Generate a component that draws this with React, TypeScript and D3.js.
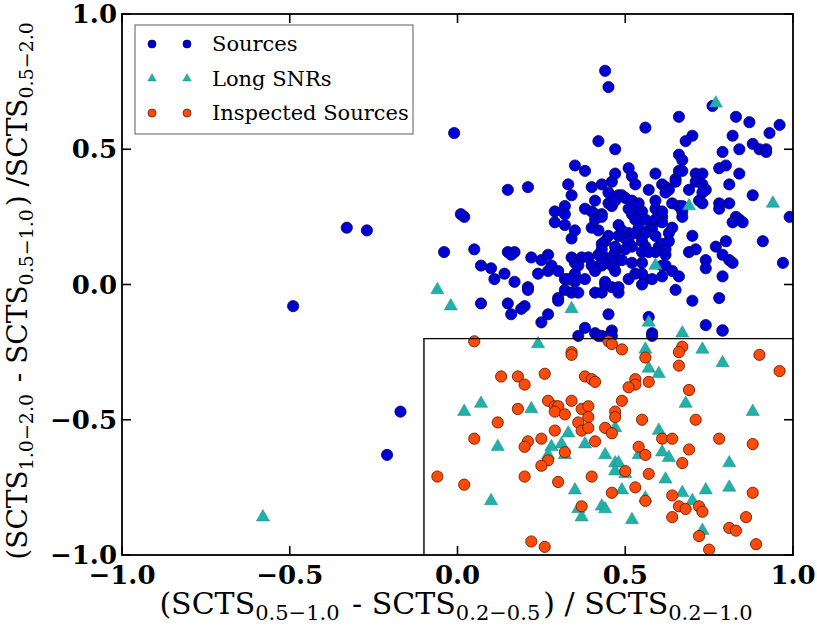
import { useEffect, useRef } from 'react';
import * as d3 from 'd3';

// hardness ratio pairs [x, y]
const sources: [number, number][] = [
  [0.44, 0.79], [0.45, 0.73], [-0.01, 0.56], [0.42, 0.53], [0.47, 0.5], [0.35, 0.44], [0.38, 0.42],
  [0.47, 0.41], [0.15, 0.35], [0.21, 0.36], [0.33, 0.37], [0.4, 0.36], [0.43, 0.37], [0.46, 0.38],
  [0.34, 0.33], [0.45, 0.34], [0.48, 0.33], [0.32, 0.29], [0.41, 0.31], [0.38, 0.28], [0.45, 0.3],
  [0.46, 0.29], [0.29, 0.27], [0.32, 0.26], [0.4, 0.27], [0.41, 0.26], [0.43, 0.26], [0.02, 0.25],
  [0.01, 0.26], [0.76, 0.66], [0.66, 0.62], [0.56, 0.58], [0.83, 0.62], [0.87, 0.6], [0.96, 0.59],
  [0.93, 0.56], [0.82, 0.55], [0.7, 0.55], [0.68, 0.53], [0.88, 0.52], [0.9, 0.5], [0.92, 0.5],
  [0.92, 0.49], [0.84, 0.5], [0.79, 0.49], [0.66, 0.48], [0.67, 0.46], [0.78, 0.43], [0.8, 0.44],
  [0.66, 0.42], [0.67, 0.42], [0.51, 0.43], [0.52, 0.4], [0.53, 0.37], [0.59, 0.41], [0.71, 0.41],
  [0.73, 0.41], [0.84, 0.41], [0.65, 0.39], [0.65, 0.38], [0.61, 0.37], [0.62, 0.36], [0.63, 0.35],
  [0.71, 0.38], [0.73, 0.37], [0.74, 0.35], [0.73, 0.34], [0.69, 0.35], [0.57, 0.35], [0.81, 0.37],
  [0.62, 0.34], [0.49, 0.33], [0.5, 0.32], [0.52, 0.31], [0.54, 0.3], [0.59, 0.31], [0.64, 0.3],
  [0.66, 0.29], [0.72, 0.31], [0.73, 0.3], [0.78, 0.3], [0.78, 0.28], [0.81, 0.3], [0.88, 0.33],
  [0.99, 0.25], [0.51, 0.28], [0.52, 0.26], [0.55, 0.27], [0.59, 0.28], [0.6, 0.26], [0.61, 0.25],
  [0.67, 0.27], [0.67, 0.25], [0.83, 0.25], [0.47, 0.31], [-0.04, 0.12], [0.05, 0.13], [0.15, 0.12],
  [0.17, 0.12], [0.16, 0.11], [0.22, 0.1], [0.25, 0.09], [0.27, 0.11], [0.07, 0.07], [0.1, 0.06],
  [0.11, 0.02], [0.14, 0.04], [0.17, 0.01], [0.24, 0.04], [0.27, 0.05], [0.28, 0.07], [0.3, 0.05],
  [0.32, 0.02], [0.21, -0.01], [0.21, -0.02], [0.07, -0.07], [0.15, -0.07], [0.16, -0.11],
  [0.2, -0.08], [0.19, -0.09], [0.25, -0.14], [0.27, -0.11], [0.3, -0.05], [0.3, -0.06], [0.32, -0.02],
  [0.34, -0.03], [0.36, -0.03], [0.35, 0.04], [0.35, 0.01], [0.33, 0.02], [0.38, 0.02], [0.34, 0.1],
  [0.35, 0.08], [0.37, 0.1], [0.39, 0.1], [0.34, 0.17], [0.35, 0.2], [0.29, 0.23], [0.32, 0.22],
  [0.4, 0.21], [0.42, 0.2], [0.41, 0.24], [0.43, 0.25], [0.4, 0.07], [0.41, 0.05], [0.43, 0.07],
  [0.45, 0.08], [0.46, 0.07], [0.47, 0.05], [0.41, -0.03], [0.43, -0.03], [0.44, 0.0], [0.46, -0.01],
  [0.48, -0.01], [0.45, -0.11], [0.38, -0.16], [0.36, -0.19], [0.41, -0.18], [0.43, -0.19],
  [0.46, -0.17], [0.45, -0.19], [0.82, 0.23], [0.84, 0.24], [0.85, 0.23], [0.7, 0.18], [0.8, 0.16],
  [0.91, 0.16], [0.69, 0.12], [0.71, 0.13], [0.77, 0.14], [0.79, 0.11], [0.81, 0.09], [0.82, 0.08],
  [0.74, 0.09], [0.74, 0.06], [0.79, 0.03], [0.97, 0.08], [0.62, 0.11], [0.62, 0.07], [0.64, 0.05],
  [0.66, 0.03], [0.65, -0.02], [0.7, -0.06], [0.78, -0.05], [0.48, -0.03], [0.57, -0.12],
  [0.58, -0.18], [0.74, -0.15], [0.79, -0.17], [0.46, -0.19], [0.58, -0.19], [0.79, -0.17],
  [0.42, -0.19], [0.53, 0.29], [0.61, 0.27], [0.67, 0.29], [0.48, 0.22], [0.49, 0.2], [0.48, 0.18],
  [0.51, 0.19], [0.53, 0.24], [0.54, 0.21], [0.53, 0.19], [0.55, 0.18], [0.56, 0.24], [0.58, 0.21],
  [0.59, 0.24], [0.57, 0.2], [0.59, 0.18], [0.56, 0.19], [0.61, 0.23], [0.64, 0.21], [0.63, 0.19],
  [0.45, 0.18], [0.44, 0.16], [0.43, 0.15], [0.5, 0.17], [0.51, 0.16], [0.52, 0.14], [0.5, 0.13],
  [0.55, 0.16], [0.56, 0.14], [0.55, 0.12], [0.6, 0.14], [0.61, 0.15], [0.62, 0.13], [0.63, 0.16],
  [0.59, 0.12], [0.36, 0.07], [0.42, 0.11], [0.43, 0.13], [0.44, 0.1], [0.46, 0.1], [0.47, 0.12],
  [0.47, 0.14], [0.43, 0.08], [0.47, 0.08], [0.49, 0.09], [0.52, 0.08], [0.55, 0.08], [0.57, 0.12],
  [0.61, 0.07], [0.51, 0.02], [0.53, 0.04], [0.55, 0.04], [0.56, 0.02], [0.58, 0.02], [0.61, 0.03],
  [0.44, 0.01], [0.55, 0.0], [-0.33, 0.21], [-0.27, 0.2], [-0.49, -0.08], [-0.17, -0.47], [-0.21, -0.63],
];

const longSnrs: [number, number][] = [
  [0.77, 0.67], [0.69, 0.29], [0.94, 0.3], [0.59, 0.07], [0.57, -0.14], [0.67, -0.18], [0.34, -0.09],
  [-0.06, -0.02], [-0.02, -0.08], [0.24, -0.22], [0.02, -0.47], [0.07, -0.44], [0.22, -0.46],
  [0.33, -0.55], [0.56, -0.24], [0.73, -0.24], [0.79, -0.29], [0.57, -0.31], [0.6, -0.33],
  [0.68, -0.44], [0.88, -0.47], [0.47, -0.53], [0.6, -0.54], [0.12, -0.6], [0.28, -0.6], [0.31, -0.59],
  [0.38, -0.59], [0.27, -0.63], [0.32, -0.63], [0.44, -0.63], [0.1, -0.8], [0.35, -0.76], [0.36, -0.83],
  [0.37, -0.86], [0.43, -0.82], [0.44, -0.83], [0.54, -0.63], [0.61, -0.62], [0.63, -0.64],
  [0.47, -0.66], [0.48, -0.66], [0.47, -0.69], [0.5, -0.7], [0.81, -0.66], [0.62, -0.72], [0.49, -0.76],
  [0.67, -0.77], [0.74, -0.76], [0.81, -0.75], [0.56, -0.79], [0.7, -0.8], [0.52, -0.87], [0.73, -0.91],
  [-0.58, -0.86],
];

const inspected: [number, number][] = [
  [0.05, -0.21], [0.45, -0.21], [0.46, -0.22], [0.34, -0.25], [0.34, -0.26], [0.13, -0.34],
  [0.18, -0.34], [0.2, -0.37], [0.26, -0.33], [0.38, -0.34], [0.4, -0.35], [0.41, -0.36], [0.18, -0.46],
  [0.27, -0.43], [0.29, -0.45], [0.3, -0.45], [0.29, -0.47], [0.32, -0.48], [0.34, -0.43], [0.37, -0.46],
  [0.39, -0.45], [0.39, -0.49], [0.12, -0.51], [0.36, -0.51], [0.37, -0.54], [0.39, -0.53],
  [0.29, -0.54], [0.44, -0.53], [0.05, -0.57], [0.21, -0.58], [0.25, -0.57], [0.41, -0.58],
  [0.49, -0.24], [0.56, -0.27], [0.67, -0.23], [0.66, -0.25], [0.9, -0.26], [0.96, -0.32],
  [0.66, -0.3], [0.53, -0.35], [0.53, -0.37], [0.51, -0.38], [0.57, -0.36], [0.69, -0.39],
  [0.49, -0.43], [0.47, -0.47], [0.47, -0.49], [0.55, -0.5], [0.71, -0.5], [0.46, -0.55],
  [0.61, -0.57], [0.64, -0.57], [0.78, -0.57], [0.88, -0.59], [0.2, -0.6], [0.32, -0.62], [0.27, -0.65],
  [0.25, -0.67], [-0.06, -0.71], [0.02, -0.74], [0.2, -0.71], [0.3, -0.73], [0.4, -0.71], [0.37, -0.82],
  [0.22, -0.95], [0.26, -0.97], [0.54, -0.6], [0.56, -0.63], [0.69, -0.61], [0.5, -0.69], [0.57, -0.7],
  [0.67, -0.66], [0.53, -0.75], [0.46, -0.77], [0.64, -0.78], [0.88, -0.77], [0.56, -0.8], [0.66, -0.82],
  [0.68, -0.83], [0.72, -0.82], [0.73, -0.84], [0.86, -0.86], [0.64, -0.86], [0.81, -0.9], [0.83, -0.91],
  [0.72, -0.93], [0.75, -0.98], [0.89, -0.96],
];

const tickValues = [-1.0, -0.5, 0.0, 0.5, 1.0];
const legendLabels = ['Sources', 'Long SNRs', 'Inspected Sources'];
const cutX = -0.1;
const cutY = -0.2;

const BLUE = '#0000d4';
const BLUE_EDGE = '#00006a';
const CYAN = '#22b0aa';
const RED = '#ff4a0a';
const RED_EDGE = '#6a1e00';

export default function App() {
  const svgRef = useRef<SVGSVGElement>(null);

  useEffect(() => {
    if (!svgRef.current) return;
    const svg = d3.select(svgRef.current);
    svg.selectAll('*').remove();

    const width = 817;
    const margin = { top: 14, right: 24, bottom: 75, left: 122 };
    const height = 630;

    const x = d3.scaleLinear().domain([-1, 1]).range([margin.left, width - margin.right]);
    const y = d3.scaleLinear().domain([-1, 1]).range([height - margin.bottom, margin.top]);
    const fmt = d3.format('.1f');
    const serif = '"DejaVu Serif", serif';

    svg.append('defs')
      .append('clipPath')
      .attr('id', 'plot-clip')
      .append('rect')
      .attr('x', x(-1))
      .attr('y', y(1))
      .attr('width', x(1) - x(-1))
      .attr('height', y(-1) - y(1));

    const tri = d3.symbol().type(d3.symbolTriangle).size(75);
    const plot = svg.append('g').attr('clip-path', 'url(#plot-clip)');

    plot.selectAll('.src')
      .data(sources)
      .enter()
      .append('circle')
      .attr('cx', (d) => x(d[0]))
      .attr('cy', (d) => y(d[1]))
      .attr('r', 5.6)
      .attr('fill', BLUE)
      .attr('stroke', BLUE_EDGE)
      .attr('stroke-width', 0.8);

    plot.selectAll('.snr')
      .data(longSnrs)
      .enter()
      .append('path')
      .attr('d', tri)
      .attr('transform', (d) => `translate(${x(d[0])},${y(d[1])})`)
      .attr('fill', CYAN)
      .attr('stroke', '#178a85')
      .attr('stroke-width', 0.5);

    plot.selectAll('.insp')
      .data(inspected)
      .enter()
      .append('circle')
      .attr('cx', (d) => x(d[0]))
      .attr('cy', (d) => y(d[1]))
      .attr('r', 5.6)
      .attr('fill', RED)
      .attr('stroke', RED_EDGE)
      .attr('stroke-width', 0.9);

    // selection box
    plot.append('path')
      .attr('d', `M${x(cutX)},${y(-1)}V${y(cutY)}H${x(1)}`)
      .attr('fill', 'none')
      .attr('stroke', '#000')
      .attr('stroke-width', 1.4);

    // frame
    svg.append('rect')
      .attr('x', x(-1))
      .attr('y', y(1))
      .attr('width', x(1) - x(-1))
      .attr('height', y(-1) - y(1))
      .attr('fill', 'none')
      .attr('stroke', '#000')
      .attr('stroke-width', 1.8);

    // inward ticks on all sides
    const tl = 9;
    const tg = svg.append('g').attr('stroke', '#000').attr('stroke-width', 1.6);
    tickValues.forEach((t) => {
      tg.append('line').attr('x1', x(t)).attr('x2', x(t)).attr('y1', y(-1)).attr('y2', y(-1) - tl);
      tg.append('line').attr('x1', x(t)).attr('x2', x(t)).attr('y1', y(1)).attr('y2', y(1) + tl);
      tg.append('line').attr('y1', y(t)).attr('y2', y(t)).attr('x1', x(-1)).attr('x2', x(-1) + tl);
      tg.append('line').attr('y1', y(t)).attr('y2', y(t)).attr('x1', x(1)).attr('x2', x(1) - tl);
    });

    svg.append('g')
      .selectAll('text')
      .data(tickValues)
      .enter()
      .append('text')
      .attr('x', (d) => x(d))
      .attr('y', y(-1) + 29)
      .attr('text-anchor', 'middle')
      .style('font-family', serif)
      .style('font-weight', 'bold')
      .style('font-size', '26px')
      .text((d) => fmt(d));

    svg.append('g')
      .selectAll('text')
      .data(tickValues)
      .enter()
      .append('text')
      .attr('x', x(-1) - 5)
      .attr('y', (d) => y(d) + 9)
      .attr('text-anchor', 'end')
      .style('font-family', serif)
      .style('font-weight', 'bold')
      .style('font-size', '26px')
      .text((d) => fmt(d));

    // axis labels with subscripts
    const addLabel = (
      el: d3.Selection<SVGTextElement, unknown, null, undefined>,
      parts: [string, string][],
      subSize: number,
      shift: number,
    ) => {
      parts.forEach(([main, sub]) => {
        el.append('tspan').text(main);
        if (sub) {
          el.append('tspan').attr('dy', shift).style('font-size', `${subSize}px`).text(sub);
          el.append('tspan').attr('dy', -shift).text('\u200a');
        }
      });
    };

    const xl = svg.append('text')
      .attr('x', x(0))
      .attr('y', 614)
      .attr('text-anchor', 'middle')
      .style('font-family', serif)
      .style('font-size', '30px') as any;
    addLabel(xl, [['(SCTS', '0.5\u22121.0'], [' - SCTS', '0.2\u22120.5'], [') / SCTS', '0.2\u22121.0']], 21, 6);

    const yl = svg.append('text')
      .attr('transform', `translate(27,${y(0) + 5}) rotate(-90)`)
      .attr('text-anchor', 'middle')
      .style('font-family', serif)
      .style('font-size', '28px') as any;
    addLabel(yl, [['(SCTS', '1.0\u22122.0'], [' - SCTS', '0.5\u22121.0'], [') /SCTS', '0.5\u22122.0']], 19, 6);

    // legend
    const lg = svg.append('g');
    lg.append('rect')
      .attr('x', 135)
      .attr('y', 25)
      .attr('width', 278)
      .attr('height', 109)
      .attr('fill', '#fff')
      .attr('stroke', '#777')
      .attr('stroke-width', 1.2);

    const rowY = d3.scalePoint<string>().domain(legendLabels).range([44, 113]);
    const mx = [152, 187];
    legendLabels.forEach((label, i) => {
      const cy = rowY(label) ?? 0;
      mx.forEach((px) => {
        if (i === 1) {
          lg.append('path')
            .attr('d', d3.symbol().type(d3.symbolTriangle).size(30)())
            .attr('transform', `translate(${px},${cy})`)
            .attr('fill', CYAN)
            .attr('stroke', '#178a85')
            .attr('stroke-width', 0.5);
        } else {
          lg.append('circle')
            .attr('cx', px)
            .attr('cy', cy)
            .attr('r', 4)
            .attr('fill', i === 0 ? BLUE : RED)
            .attr('stroke', i === 0 ? BLUE_EDGE : RED_EDGE)
            .attr('stroke-width', 0.8);
        }
      });
      lg.append('text')
        .attr('x', 212)
        .attr('y', cy + 7)
        .style('font-family', serif)
        .style('font-size', '21px')
        .text(label);
    });
  }, []);

  return (
    <svg
      ref={svgRef}
      width={817}
      height={630}
      style={{ position: 'absolute', left: 0, top: 0, background: '#fff' }}
    />
  );
}
